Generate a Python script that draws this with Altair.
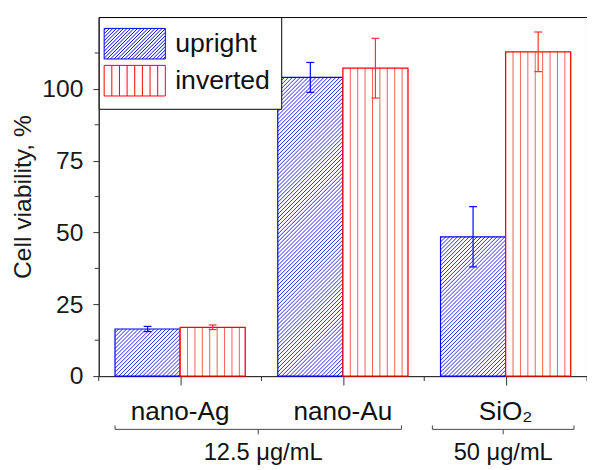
import altair as alt
import pandas as pd
import numpy as np

# ---------------- data ----------------
categories = ["nano-Ag", "nano-Au", "SiO₂"]
group_pos = [1, 2, 3]
upright_mean = [16.4, 104.0, 48.5]
upright_err = [0.9, 5.2, 10.5]
inverted_mean = [17.0, 107.2, 112.9]
inverted_err = [0.8, 10.4, 6.9]
series = ["upright", "inverted"]
series_colors = ["#0000ff", "#ff0000"]
y_major_ticks = [0, 25, 50, 75, 100]
y_minor_ticks = [12.5, 37.5, 62.5, 87.5, 112.5]
x_major_ticks = [1, 2, 3]
x_minor_ticks = [0.5, 1.5, 2.5, 3.5]
conc_labels = ["12.5 μg/mL", "50 μg/mL"]
conc_start = [0.6, 2.55]
conc_end = [2.36, 3.42]
conc_label_pos = [1.51, 2.985]

# ---------------- layout ----------------
W, H = 495, 364
X_DOM = [0.5, 3.5]
Y_DOM = [0, 125]
BAR_W = 0.4
SX = W / (X_DOM[1] - X_DOM[0])   # px per x unit
SY = H / (Y_DOM[1] - Y_DOM[0])   # px per y unit
CAP = 4.0 / SX
FONT = "Liberation Sans"

xscale = alt.Scale(domain=X_DOM, nice=False, zero=False)
yscale = alt.Scale(domain=Y_DOM, nice=False, zero=True)


def bar_frame(means, errs, side):
    rows = []
    for cat, pos, m, e in zip(categories, group_pos, means, errs):
        x0 = pos - BAR_W if side == 0 else pos
        rows.append(dict(cat=cat, x0=x0, x1=x0 + BAR_W, xc=x0 + BAR_W / 2,
                         value=m, lo=m - e, hi=m + e,
                         c0=x0 + BAR_W / 2 - CAP, c1=x0 + BAR_W / 2 + CAP,
                         series=series[side]))
    return pd.DataFrame(rows)


up_df = bar_frame(upright_mean, upright_err, 0)
inv_df = bar_frame(inverted_mean, inverted_err, 1)
all_df = pd.concat([up_df, inv_df], ignore_index=True)

# diagonal hatch for upright bars (45 deg in pixel space)
hatch_rows = []
step = 4.0
for _, r in up_df.iterrows():
    Wp = BAR_W * SX
    Hp = r["value"] * SY
    d = -Wp + step / 2
    while d < Hp:
        u0 = max(0.0, -d)
        u1 = min(Wp, Hp - d)
        if u1 > u0:
            hatch_rows.append(dict(xa=r["x0"] + u0 / SX, ya=(u0 + d) / SY,
                                   xb=r["x0"] + u1 / SX, yb=(u1 + d) / SY))
        d += step
hatch_df = pd.DataFrame(hatch_rows)

# vertical lines for inverted bars
vl_rows = []
vstep = 0.0455
for _, r in inv_df.iterrows():
    k = 1
    while k * vstep < BAR_W - 0.01:
        vl_rows.append(dict(x=r["x0"] + k * vstep, top=r["value"]))
        k += 1
vl_df = pd.DataFrame(vl_rows)


# legend symbol paths (unit box scaled by sqrt(size)/2)
def up_path(sp=0.23):
    p = "M-2,-1L2,-1L2,1L-2,1Z"
    k = -3 + sp / 2
    while k < 3:
        xs = max(-2, k - 1)
        xe = min(2, k + 1)
        if xe > xs:
            p += f"M{xs:.3f},{k - xs:.3f}L{xe:.3f},{k - xe:.3f}"
        k += sp
    return p


def inv_path():
    p = "M-2,-1L2,-1L2,1L-2,1Z"
    for i in range(1, 8):
        x = -2 + 0.5 * i
        p += f"M{x:.3f},-1L{x:.3f},1"
    return p


shape_paths = [up_path(), inv_path()]

# ---------------- layers ----------------
# only the first layer carries axis settings; other layers leave axis unset
def X(f, **kw):
    return alt.X(f, scale=xscale, **kw)


def Y(f, **kw):
    return alt.Y(f, scale=yscale, **kw)


base_up = alt.Chart(up_df)
base_inv = alt.Chart(inv_df)

up_fill = base_up.mark_rect(fill="white", stroke=None).encode(
    x=alt.X("x0:Q", scale=xscale,
            axis=alt.Axis(values=x_major_ticks, tickSize=9, labels=False, title=None,
                          grid=False, domainColor="#333", tickColor="#333")),
    x2="x1:Q",
    y=alt.Y("value:Q", scale=yscale,
            axis=alt.Axis(values=y_major_ticks, tickSize=6, labelFontSize=25, labelPadding=10,
                          labelColor="#1a1a1a", title="Cell viability, %", titleFontSize=25,
                          titleFontWeight="normal", titleColor="#1a1a1a", titlePadding=6,
                          grid=False, domainColor="#333", tickColor="#333")),
    y2=alt.datum(0),
)

up_hatch = alt.Chart(hatch_df).mark_rule(color="#0000ff", strokeWidth=1, opacity=0.85).encode(
    x=X("xa:Q"), x2="xb:Q", y=Y("ya:Q"), y2="yb:Q")

up_border = base_up.mark_rect(fill=None, stroke="#0000ff", strokeWidth=1.2).encode(
    x=X("x0:Q"), x2="x1:Q", y=Y("value:Q"), y2=alt.datum(0))

inv_fill = base_inv.mark_rect(fill="white", stroke=None).encode(
    x=X("x0:Q"), x2="x1:Q", y=Y("value:Q"), y2=alt.datum(0))

inv_lines = alt.Chart(vl_df).mark_rule(color="#ff0000", strokeWidth=1, opacity=0.65).encode(
    x=X("x:Q"), y=Y("top:Q"), y2=alt.datum(0))

inv_border = base_inv.mark_rect(fill=None, stroke="#ff0000", strokeWidth=1.3).encode(
    x=X("x0:Q"), x2="x1:Q", y=Y("value:Q"), y2=alt.datum(0))


def err_layers(base, color):
    v = base.mark_rule(color=color, strokeWidth=1.2).encode(x=X("xc:Q"), y=Y("lo:Q"), y2="hi:Q")
    t = base.mark_rule(color=color, strokeWidth=1.2).encode(x=X("c0:Q"), x2="c1:Q", y=Y("hi:Q"))
    b = base.mark_rule(color=color, strokeWidth=1.2).encode(x=X("c0:Q"), x2="c1:Q", y=Y("lo:Q"))
    return [v, t, b]


leg = alt.Legend(title=None, orient="none", legendX=0, legendY=0, strokeColor="black",
                 fillColor="white", padding=11, symbolSize=961, symbolStrokeWidth=1,
                 symbolOpacity=1, symbolOffset=9.5, labelOffset=25, rowPadding=1.5,
                 labelFontSize=27, labelFont=FONT, labelColor="#111", cornerRadius=0)

legend_layer = alt.Chart(all_df).mark_point(opacity=0, filled=False).encode(
    x=X("xc:Q"), y=Y("value:Q"),
    color=alt.Color("series:N", scale=alt.Scale(domain=series, range=series_colors), legend=leg),
    shape=alt.Shape("series:N", scale=alt.Scale(domain=series, range=shape_paths), legend=leg),
)

xminor = alt.Chart(pd.DataFrame({"t": x_minor_ticks})).mark_rule(color="#333").encode(
    x=X("t:Q"), y=alt.value(H), y2=alt.value(H + 5))
yminor = alt.Chart(pd.DataFrame({"t": y_minor_ticks})).mark_rule(color="#333").encode(
    y=Y("t:Q"), x=alt.value(-4), x2=alt.value(0))

cat_text = alt.Chart(pd.DataFrame({"pos": group_pos, "label": categories})).mark_text(
    fontSize=26.5, baseline="alphabetic", align="center", color="#111").encode(
    x=X("pos:Q"), y=alt.value(H + 45), text="label:N")

br_df = pd.DataFrame({"s": conc_start, "e": conc_end,
                      "m": [(a + b) / 2 for a, b in zip(conc_start, conc_end)],
                      "lp": conc_label_pos, "label": conc_labels})
br = alt.Chart(br_df)
br_h = br.mark_rule(color="#444").encode(x=X("s:Q"), x2="e:Q", y=alt.value(H + 54))
br_l = br.mark_rule(color="#444").encode(x=X("s:Q"), y=alt.value(H + 50), y2=alt.value(H + 54))
br_r = br.mark_rule(color="#444").encode(x=X("e:Q"), y=alt.value(H + 50), y2=alt.value(H + 54))
br_m = br.mark_rule(color="#444").encode(x=X("m:Q"), y=alt.value(H + 54), y2=alt.value(H + 59))
br_t = br.mark_text(fontSize=24, baseline="alphabetic", align="center", color="#111").encode(
    x=X("lp:Q"), y=alt.value(H + 85), text="label:N")

chart = alt.layer(
    up_fill, up_hatch, up_border, inv_fill, inv_lines, inv_border,
    *err_layers(base_up, "#0000ff"), *err_layers(base_inv, "#ff3030"),
    legend_layer, xminor, yminor, cat_text, br_h, br_l, br_r, br_m, br_t,
).properties(
    width=W, height=H,
    padding={"left": 92, "top": 6, "right": 0, "bottom": 92},
    autosize=alt.AutoSizeParams(type="none"),
).configure(
    font=FONT,
    view=alt.ViewConfig(stroke="black", strokeWidth=1),
)

chart.save("out.html", embed_options={"renderer": "svg", "actions": False})
